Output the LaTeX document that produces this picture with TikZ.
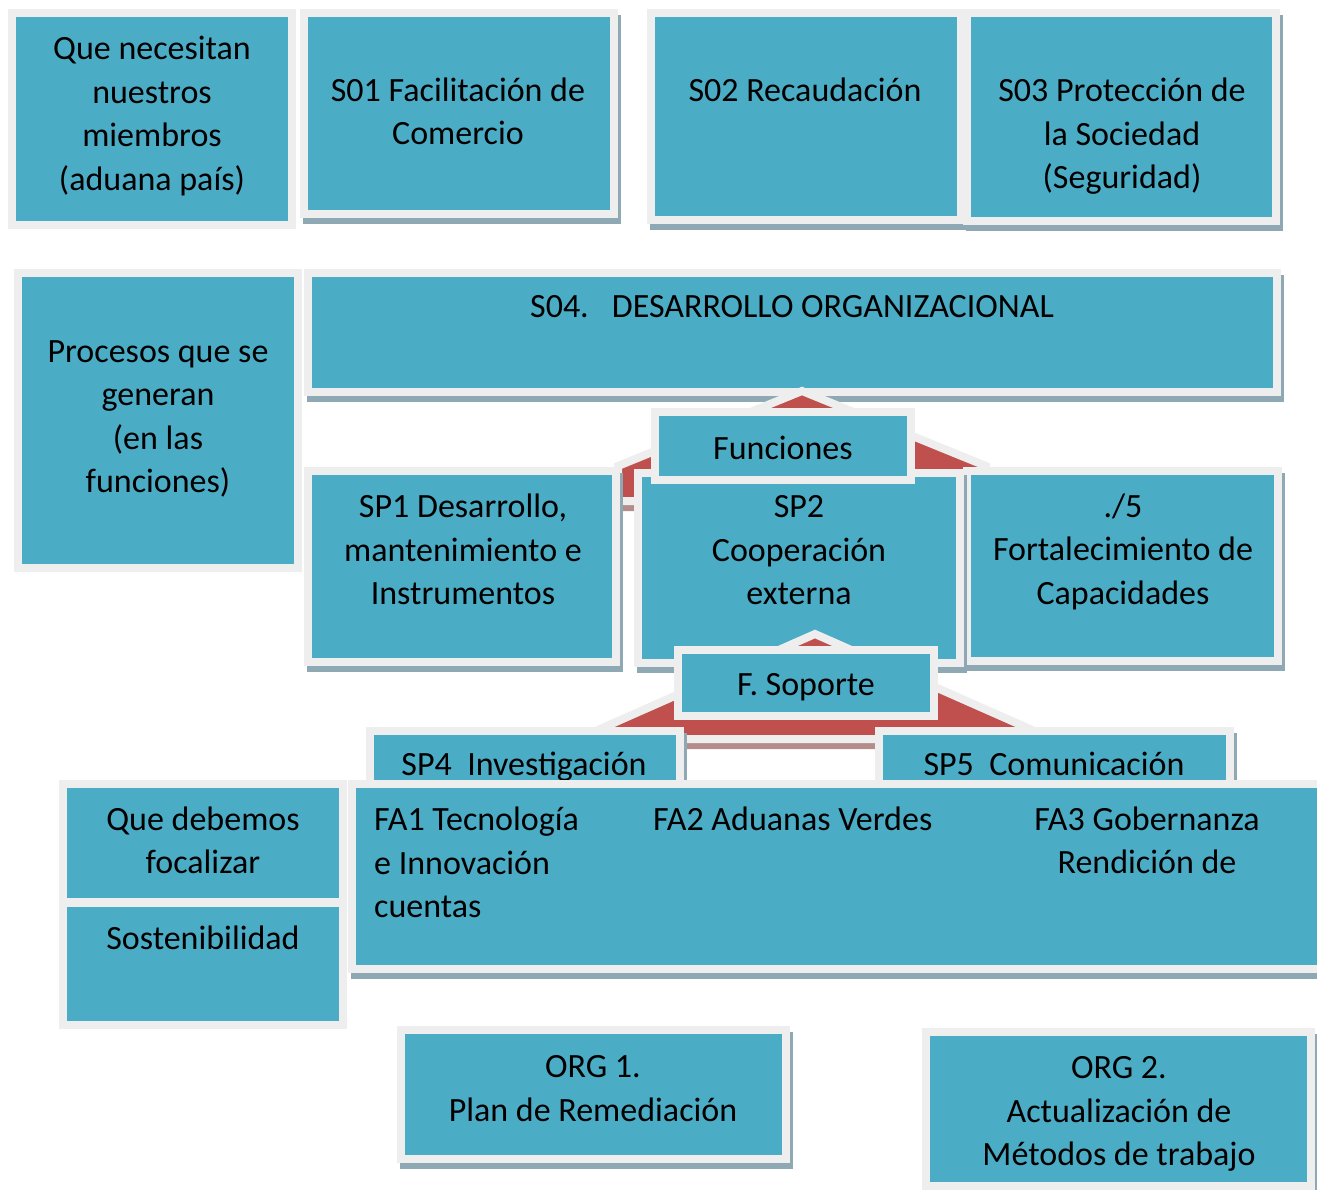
\documentclass[tikz,border=0pt]{standalone}
\usepackage{fontspec}
\setmainfont{Carlito}

\definecolor{azul}{RGB}{75,172,198}
\definecolor{marco}{RGB}{238,238,238}
\definecolor{sombra}{RGB}{142,169,180}
\definecolor{rojo}{RGB}{192,80,77}
\definecolor{sombraroja}{RGB}{180,140,140}

\begin{document}
\begin{tikzpicture}[x=1pt, y=-1pt,
    every node/.style={font=\fontsize{34}{43.5}\selectfont},
    caja/.style={draw=marco, line width=8pt, fill=azul, inner sep=0pt},
    consombra/.style={preaction={draw=sombra, fill=sombra, line width=8pt,
        transform canvas={xshift=3pt, yshift=-6pt}}},
    techo/.style={draw=marco, line width=8pt, fill=rojo, line join=miter,
        preaction={draw=sombraroja, fill=sombraroja, line width=8pt,
        transform canvas={xshift=0pt, yshift=-6pt}}},
    texto/.style={align=center, inner sep=0pt}]
  \useasboundingbox (0,0) rectangle (1317,1190);

  % First row
  \node[caja, minimum width=280pt, minimum height=212pt] (necesitan) at (152,119) {};
  \node[caja, consombra, minimum width=310pt, minimum height=201pt] (s01) at (459,113.5) {};
  \node[caja, consombra, minimum width=310pt, minimum height=207pt] (s02) at (806,116.5) {};
  \node[caja, consombra, minimum width=309pt, minimum height=208pt] (s03) at (1121.5,117) {};
  \node[texto] (t-necesitan) at (152,116) {Que necesitan\\nuestros\\miembros\\(aduana país)};
  \node[texto] (t-s01) at (458,111.5) {S01 Facilitación de\\Comercio};
  \node[texto] (t-s02) at (805,90) {S02 Recaudación};
  \node[texto] (t-s03) at (1122,136.5) {S03 Protección de\\la Sociedad\\(Seguridad)};

  % Second row
  \node[caja, minimum width=280pt, minimum height=295pt] (procesos) at (158,420.5) {};
  \node[caja, consombra, minimum width=969pt, minimum height=119pt] (s04) at (792.5,332.5) {};
  \node[texto] (t-procesos) at (158,419) {Procesos que se\\generan\\(en las\\funciones)};
  \node[texto] (t-s04) at (792,307) {S04.\ \ \ DESARROLLO ORGANIZACIONAL};

  % Functions
  \draw[techo] (618,501) -- (618,466) -- (802,391) -- (986,466) -- (986,501) -- cycle;
  \node[caja, consombra, minimum width=308pt, minimum height=191pt] (sp1) at (462,566.5) {};
  \node[caja, consombra, minimum width=311pt, minimum height=190pt] (sp3) at (1122.5,566) {};
  \node[caja, consombra, minimum width=322pt, minimum height=190pt] (sp2) at (799,568) {};
  \node[caja, minimum width=256pt, minimum height=68pt] (funciones) at (783,446) {};
  \node[texto] (t-funciones) at (783,448) {Funciones};
  \node[texto] (t-sp1) at (463,549.5) {SP1 Desarrollo,\\mantenimiento e\\Instrumentos};
  \node[texto] (t-sp2) at (799,550.5) {SP2\\Cooperación\\externa};
  \node[texto] (t-sp3) at (1123,551.5) {./5\\Fortalecimiento de\\Capacidades};

  % Support
  \draw[techo] (600,739) -- (600,729) -- (815,634) -- (1030,729) -- (1030,739) -- cycle;
  \node[caja, minimum width=256pt, minimum height=66pt] (soporte) at (806,683) {};
  \node[caja, consombra, minimum width=310pt, minimum height=63pt] (sp4) at (525,762.5) {};
  \node[caja, consombra, minimum width=351pt, minimum height=63pt] (sp5) at (1054.5,762.5) {};
  \node[texto] (t-soporte) at (806,687) {F. Soporte};
  \node[texto] (t-sp4) at (524,767) {SP4\ \ Investigación};
  \node[texto] (t-sp5) at (1054,764) {SP5\ \ Comunicación};

  % Focus
  \node[caja, consombra, minimum width=972pt, minimum height=185pt] (fa) at (838,876.5) {};
  \node[caja, minimum width=280pt, minimum height=118pt] (debemos) at (203,843) {};
  \node[caja, minimum width=280pt, minimum height=122pt] (sosten) at (203,964) {};
  \node[texto, align=left, anchor=west] (t-fa1) at (374,862.5) {FA1 Tecnología\\e Innovación\\cuentas};
  \node[texto, anchor=west] (t-fa2) at (653,819) {FA2 Aduanas Verdes};
  \node[texto] (t-fa3) at (1147,840.5) {FA3 Gobernanza\\Rendición de};
  \node[texto] (t-debemos) at (203,840.5) {Que debemos\\focalizar};
  \node[texto] (t-sosten) at (203,938) {Sostenibilidad};

  % Organization
  \node[caja, consombra, minimum width=385pt, minimum height=129pt] (org1) at (593.5,1094.5) {};
  \node[caja, consombra, minimum width=385pt, minimum height=154pt] (org2) at (1118.5,1109) {};
  \node[texto] (t-org1) at (593,1088.5) {ORG 1.\\Plan de Remediación};
  \node[texto] (t-org2) at (1119,1114) {ORG 2.\\Actualización de\\Métodos de trabajo};
\end{tikzpicture}
\end{document}
